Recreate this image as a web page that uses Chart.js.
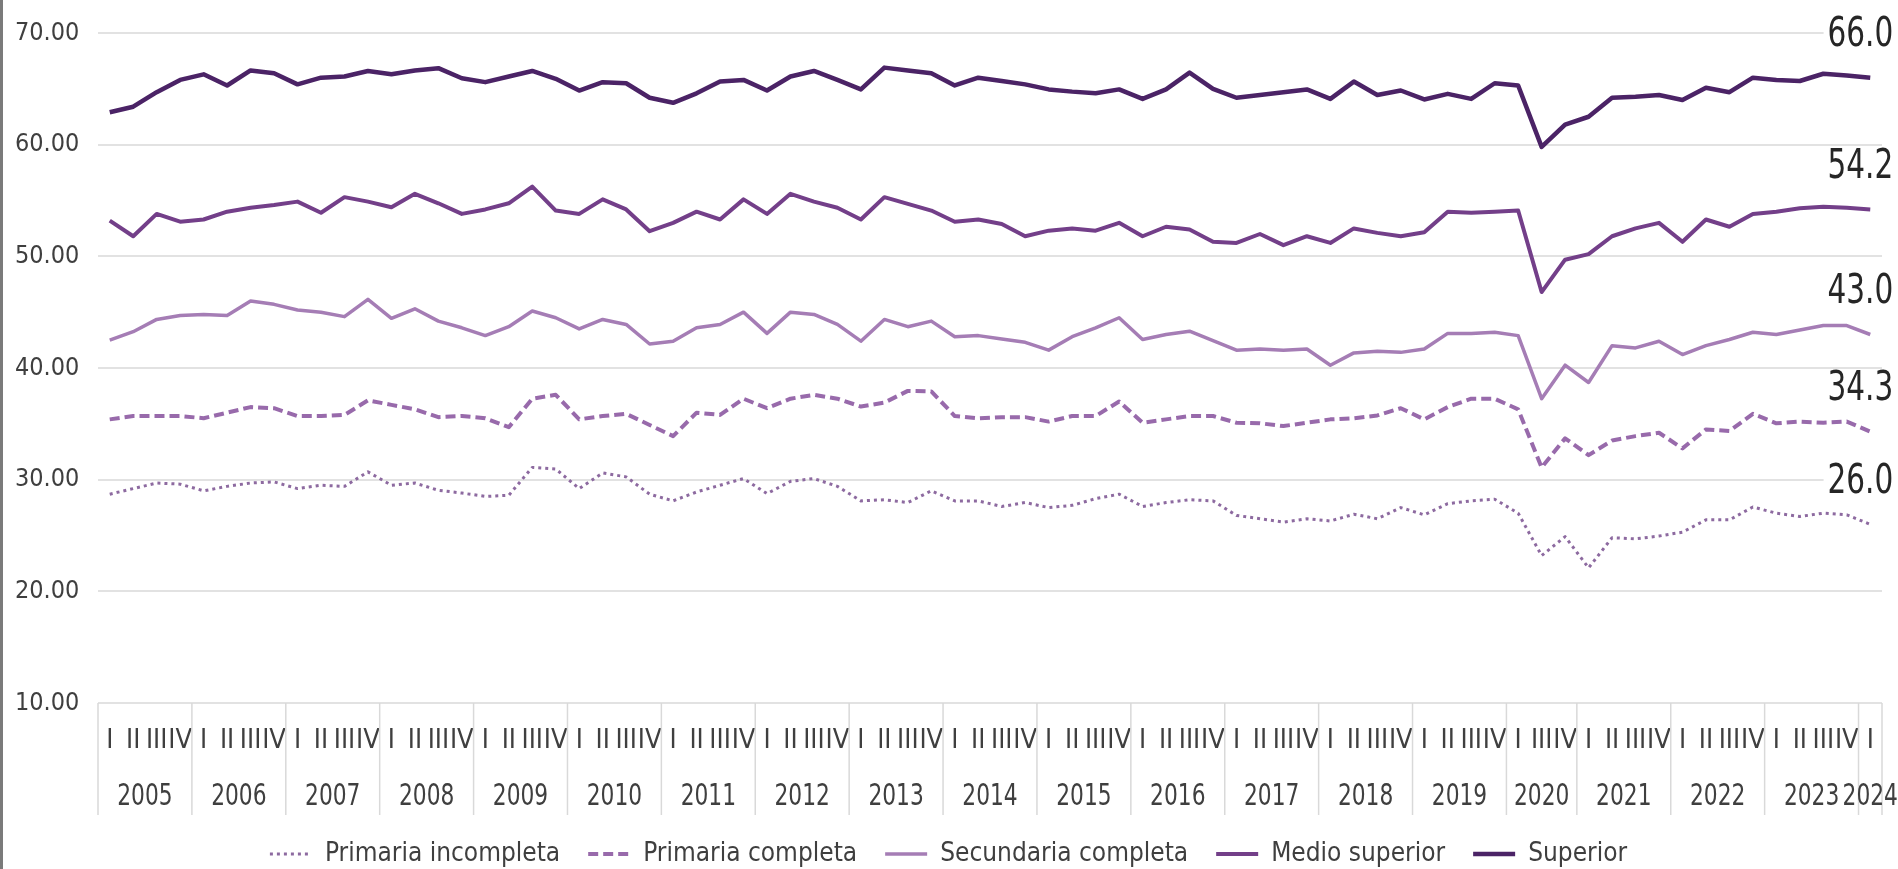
<!DOCTYPE html>
<html>
<head>
<meta charset="utf-8">
<script src="https://cdn.jsdelivr.net/npm/chart.js@4.4.1/dist/chart.umd.min.js"></script>
<style>
  html, body { margin: 0; padding: 0; background: #fff; }
  #wrap { position: relative; width: 1898px; height: 869px; }
  #edge { position: absolute; left: 0; top: 0; width: 3px; height: 869px; background: #7a7a7a; }
</style>
</head>
<body>
<div id="wrap">
  <canvas id="chart" width="1898" height="869"></canvas>
  <div id="edge"></div>
</div>
<script>
// Years and the quarters reported in each (2020 has no II, 2024 only I)
const years = ['2005', '2006', '2007', '2008', '2009', '2010', '2011', '2012', '2013', '2014',
               '2015', '2016', '2017', '2018', '2019', '2020', '2021', '2022', '2023', '2024'];
const fullQuarters = ['I', 'II', 'III', 'IV'];
const shortQuarters = { '2020': ['I', 'III', 'IV'], '2024': ['I'] };

const seriesNames = ['Primaria incompleta', 'Primaria completa', 'Secundaria completa', 'Medio superior', 'Superior'];

const primariaIncompleta = [
  28.7, 29.2, 29.7, 29.6, 29.0, 29.4, 29.7, 29.8, 29.2, 29.5, 29.4, 30.7, 29.5, 29.7, 29.05, 28.8,
  28.5, 28.6, 31.1, 30.95, 29.2, 30.6, 30.25, 28.7, 28.1, 28.9, 29.5, 30.1, 28.75, 29.85, 30.1, 29.4,
  28.1, 28.2, 27.95, 29.0, 28.1, 28.1, 27.6, 27.95, 27.5, 27.7, 28.3, 28.7, 27.6, 27.95, 28.2, 28.1,
  26.8, 26.5, 26.2, 26.5, 26.3, 26.9, 26.5, 27.5, 26.85, 27.85, 28.1, 28.25, 27.0, 23.2, 24.9, 22.1,
  24.8, 24.7, 24.95, 25.3, 26.4, 26.4, 27.55, 27.0, 26.7, 27.0, 26.85, 26.0
];
const primariaCompleta = [
  35.4, 35.7, 35.7, 35.7, 35.5, 36.0, 36.5, 36.4, 35.7, 35.7, 35.8, 37.1, 36.7, 36.3, 35.6, 35.7,
  35.5, 34.7, 37.25, 37.6, 35.4, 35.7, 35.9, 34.9, 33.9, 36.0, 35.8, 37.25, 36.4, 37.25, 37.6, 37.25,
  36.55, 36.9, 37.95, 37.9, 35.7, 35.5, 35.6, 35.6, 35.2, 35.7, 35.7, 37.0, 35.1, 35.4, 35.7, 35.7,
  35.1, 35.05, 34.8, 35.1, 35.4, 35.5, 35.75, 36.4, 35.4, 36.5, 37.25, 37.25, 36.3, 31.1, 33.7, 32.2,
  33.5, 33.9, 34.2, 32.8, 34.5, 34.35, 35.9, 35.05, 35.2, 35.1, 35.2, 34.3
];
const secundariaCompleta = [
  42.5, 43.25, 44.35, 44.7, 44.8, 44.7, 46.0, 45.7, 45.2, 45.0, 44.6, 46.15, 44.45, 45.3, 44.2, 43.6,
  42.9, 43.7, 45.1, 44.5, 43.5, 44.35, 43.9, 42.15, 42.4, 43.6, 43.9, 45.0, 43.1, 45.0, 44.8, 43.9,
  42.4, 44.35, 43.7, 44.2, 42.8, 42.9, 42.6, 42.3, 41.6, 42.8, 43.6, 44.5, 42.55, 43.0, 43.3, 42.45,
  41.6, 41.7, 41.6, 41.7, 40.25, 41.35, 41.5, 41.4, 41.7, 43.1, 43.1, 43.2, 42.9, 37.25, 40.25, 38.7,
  42.0, 41.8, 42.4, 41.2, 42.0, 42.55, 43.2, 43.0, 43.4, 43.8, 43.8, 43.0
];
const medioSuperior = [
  53.2, 51.8, 53.8, 53.1, 53.3, 54.0, 54.35, 54.6, 54.9, 53.9, 55.3, 54.9, 54.4, 55.6, 54.75, 53.8,
  54.2, 54.75, 56.25, 54.1, 53.8, 55.1, 54.2, 52.25, 53.0, 54.0, 53.3, 55.1, 53.8, 55.6, 54.9, 54.35,
  53.3, 55.3, 54.7, 54.1, 53.1, 53.3, 52.9, 51.8, 52.3, 52.5, 52.3, 53.0, 51.8, 52.65, 52.4, 51.3,
  51.2, 52.0, 51.0, 51.8, 51.2, 52.5, 52.1, 51.8, 52.15, 54.0, 53.9, 54.0, 54.1, 46.8, 49.7, 50.2,
  51.8, 52.5, 53.0, 51.3, 53.3, 52.65, 53.8, 54.0, 54.3, 54.45, 54.35, 54.2
];
const superior = [
  62.9, 63.4, 64.7, 65.8, 66.3, 65.3, 66.65, 66.4, 65.4, 66.0, 66.1, 66.6, 66.3, 66.65, 66.85, 65.95,
  65.6, 66.1, 66.6, 65.9, 64.85, 65.6, 65.5, 64.2, 63.75, 64.6, 65.65, 65.8, 64.85, 66.1, 66.6, 65.8,
  64.95, 66.9, 66.65, 66.4, 65.3, 66.0, 65.7, 65.4, 64.95, 64.75, 64.6, 64.95, 64.1, 64.95, 66.45, 65.0,
  64.2, 64.45, 64.7, 64.95, 64.1, 65.65, 64.45, 64.85, 64.05, 64.55, 64.1, 65.5, 65.3, 59.8, 61.8, 62.5,
  64.2, 64.3, 64.45, 64.0, 65.1, 64.7, 66.0, 65.8, 65.7, 66.35, 66.2, 66.0
];

const FONT = "'Liberation Sans Narrow', 'Arial Narrow', 'DejaVu Sans Condensed', 'Liberation Sans', sans-serif";
const TEXT = '#3f3f3f';

// build the quarter categories
const categories = [];
const quarterOf = [];
const yearGroups = [];
years.forEach(yr => {
  const qs = shortQuarters[yr] || fullQuarters;
  yearGroups.push({ year: yr, start: categories.length, count: qs.length });
  qs.forEach(q => {
    categories.push(yr + ' ' + q);
    quarterOf.push(q);
  });
});

// draw text squeezed sideways (the source uses a narrow face)
function narrowText(ctx, txt, x, y, squeeze) {
  ctx.save();
  ctx.translate(x, y);
  ctx.scale(squeeze, 1);
  ctx.fillText(txt, 0, 0);
  ctx.restore();
}

// year row, separators and end value labels
const decorPlugin = {
  id: 'decor',
  afterDraw(chart) {
    const ctx = chart.ctx;
    const xs = chart.scales.x;
    const area = chart.chartArea;
    const step = xs.getPixelForValue(1) - xs.getPixelForValue(0);
    const edge = i => xs.getPixelForValue(i) - step / 2;

    ctx.save();
    ctx.strokeStyle = '#d9d9d9';
    ctx.lineWidth = 1.5;
    yearGroups.forEach(g => {
      const left = edge(g.start);
      ctx.beginPath();
      ctx.moveTo(left, area.bottom);
      ctx.lineTo(left, 815);
      ctx.stroke();
    });
    ctx.beginPath();
    ctx.moveTo(area.right, area.bottom);
    ctx.lineTo(area.right, 815);
    ctx.stroke();

    ctx.fillStyle = TEXT;
    ctx.font = '31px ' + FONT;
    ctx.textAlign = 'center';
    ctx.textBaseline = 'middle';
    yearGroups.forEach(g => {
      const cx = (edge(g.start) + edge(g.start + g.count)) / 2;
      narrowText(ctx, g.year, cx, 797, 0.78);
    });

    // last value of each series above its end
    ctx.font = '40px ' + FONT;
    ctx.textAlign = 'right';
    chart.data.datasets.forEach((ds, i) => {
      const meta = chart.getDatasetMeta(i);
      const pt = meta.data[meta.data.length - 1];
      const txt = ds.data[ds.data.length - 1].toFixed(1);
      const right = pt.x + 23;
      const cy = pt.y - 42;
      const w = ctx.measureText(txt).width * 0.82;
      ctx.fillStyle = '#ffffff';
      ctx.fillRect(right - w - 4, cy - 20, w + 8, 40);
      ctx.fillStyle = '#262626';
      narrowText(ctx, txt, right, cy, 0.82);
    });
    ctx.restore();
  }
};

const ctx = document.getElementById('chart').getContext('2d');
new Chart(ctx, {
  type: 'line',
  data: {
    labels: categories,
    datasets: [
      { label: seriesNames[0], data: primariaIncompleta, borderColor: '#8d6aa0', borderWidth: 3,
        borderDash: [3, 4], borderCapStyle: 'butt' },
      { label: seriesNames[1], data: primariaCompleta, borderColor: '#986aab', borderWidth: 4,
        borderDash: [10, 5] },
      { label: seriesNames[2], data: secundariaCompleta, borderColor: '#a57db5', borderWidth: 3.5 },
      { label: seriesNames[3], data: medioSuperior, borderColor: '#733f89', borderWidth: 4 },
      { label: seriesNames[4], data: superior, borderColor: '#4b2366', borderWidth: 4.5 }
    ]
  },
  options: {
    responsive: false,
    animation: false,
    layout: { padding: { top: 33, right: 16, left: 15, bottom: -8 } },
    elements: {
      point: { radius: 0, hoverRadius: 0 },
      line: { tension: 0, fill: false, borderJoinStyle: 'round' }
    },
    plugins: {
      tooltip: { enabled: false },
      legend: {
        position: 'bottom',
        labels: {
          usePointStyle: true,
          pointStyle: 'line',
          pointStyleWidth: 42,
          padding: 28,
          color: TEXT,
          font: { family: FONT, size: 26 },
          // keep each series' dash and width in the key
          generateLabels: chart => chart.data.datasets.map((ds, i) => ({
            text: ds.label,
            datasetIndex: i,
            strokeStyle: ds.borderColor,
            fillStyle: ds.borderColor,
            lineWidth: ds.borderWidth,
            lineDash: ds.borderDash || [],
            lineCap: 'butt',
            pointStyle: 'line',
            hidden: false,
            fontColor: TEXT
          }))
        }
      }
    },
    scales: {
      x: {
        offset: true,
        grid: { display: false, drawTicks: false },
        border: { display: false },
        ticks: {
          autoSkip: false,
          maxRotation: 0,
          minRotation: 0,
          padding: 22,
          color: TEXT,
          font: { family: FONT, size: 27 },
          callback: (v, i) => quarterOf[i]
        },
        afterFit: s => { s.height = 110; }
      },
      y: {
        min: 10,
        max: 70,
        grid: { color: '#e2e2e2', lineWidth: 2, drawTicks: false },
        border: { display: false },
        ticks: {
          stepSize: 10,
          padding: 0,
          crossAlign: 'far',
          color: TEXT,
          font: { family: FONT, size: 25 },
          callback: v => v.toFixed(2)
        },
        afterFit: s => { s.width = 83; }
      }
    }
  },
  plugins: [decorPlugin]
});
</script>
</body>
</html>
